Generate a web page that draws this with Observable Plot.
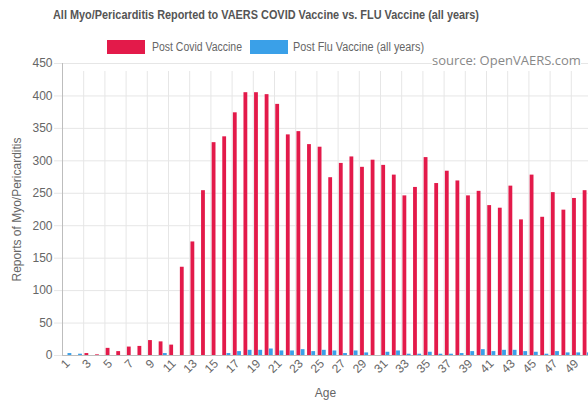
<!DOCTYPE html>
<html>
<head>
<meta charset="utf-8">
<script src="https://cdn.jsdelivr.net/npm/d3@7"></script>
<script src="https://cdn.jsdelivr.net/npm/@observablehq/plot@0.6"></script>
<style>
  html, body { margin: 0; padding: 0; background: #fff; overflow: hidden; }
  #wrap { position: relative; width: 588px; height: 400px; overflow: hidden; }
  #chart { position: absolute; left: 0; top: 0; }
  .txt { position: absolute; white-space: nowrap; transform-origin: 0 50%; line-height: 1; }
  .title { font-family: "Liberation Sans", Arial, sans-serif; font-weight: bold; font-size: 12.5px; color: #555; }
  .leg { font-family: "Liberation Sans", Arial, sans-serif; font-size: 12.5px; color: #666; }
  .sw { position: absolute; width: 38px; height: 14px; }
  .source { font-family: "Open Sans", sans-serif; font-size: 13px; color: #888; background: #fff; line-height: 1.2; }
</style>
</head>
<body>
<div id="wrap">
  <div id="chart"></div>
</div>
<script>
const titleText = "All Myo/Pericarditis Reported to VAERS COVID Vaccine vs. FLU Vaccine (all years)";
const sourceText = "source: OpenVAERS.com";
const seriesNames = ["Post Covid Vaccine", "Post Flu Vaccine (all years)"];
const seriesColors = ["#e31a4a", "#3aa0e8"];

const ages = [1,2,3,4,5,6,7,8,9,10,11,12,13,14,15,16,17,18,19,20,21,22,23,24,25,26,27,28,29,30,31,32,33,34,35,36,37,38,39,40,41,42,43,44,45,46,47,48,49,50];
const covid = [0,0,3,1,11,6,13,14,23,21,16,136,175,254,328,337,374,405,405,402,387,340,345,325,321,274,296,306,290,301,293,278,246,259,305,265,284,269,246,253,231,227,261,209,278,213,251,224,242,254];
const flu = [3,2,0,0,0,0,0,0,0,3,0,0,0,0,0,3,6,8,8,10,7,7,9,6,8,7,3,7,4,0,5,7,2,2,5,2,2,3,6,9,6,8,8,6,5,2,6,4,4,4];
const yTicks = [0,50,100,150,200,250,300,350,400,450];
const xTickAges = [1,3,5,7,9,11,13,15,17,19,21,23,25,27,29,31,33,35,37,39,41,43,45,47,49];

const data = ages.map((a, i) => ({age: a, covid: covid[i], flu: flu[i]}));

const xRange = [62, 592];
const bw = (xRange[1] - xRange[0]) / ages.length;
const grid = "#e6e6e6";
const axisCol = "#bdbdbd";

const plot = Plot.plot({
  width: 588,
  height: 400,
  marginTop: 63,
  marginBottom: 45,
  marginLeft: 62,
  marginRight: 0,
  style: {fontFamily: "'Liberation Sans', Arial, sans-serif", fontSize: "12px", overflow: "hidden", background: "transparent", color: "#666"},
  x: {type: "band", domain: ages, range: xRange, padding: 0, round: false},
  y: {domain: [0, 450], range: [355, 63]},
  marks: [
    Plot.ruleY(yTicks, {y: d => d, stroke: grid, insetLeft: -8}),
    Plot.ruleX(xTickAges, {x: d => d, y1: 0, y2: 450, dx: -bw / 2, stroke: grid, insetBottom: -8}),
    Plot.barY(data, {x: "age", y: "covid", fill: seriesColors[0], insetLeft: bw * 0.12, insetRight: bw * 0.52}),
    Plot.barY(data, {x: "age", y: "flu", fill: seriesColors[1], insetLeft: bw * 0.52, insetRight: bw * 0.12}),
    Plot.ruleY([0], {stroke: axisCol}),
    Plot.ruleX([ages[0]], {x: d => d, y1: 0, y2: 450, dx: -bw / 2, stroke: axisCol}),
    Plot.axisY({ticks: yTicks, tickSize: 0, tickPadding: 10, fill: "#666", label: "Reports of Myo/Pericarditis", labelAnchor: "center", labelArrow: "none", labelOffset: 50}),
    Plot.axisX({ticks: xTickAges, tickSize: 0, tickRotate: -45, tickPadding: 6, fill: "#666", label: "Age", labelAnchor: "center", labelArrow: "none", labelOffset: 41})
  ]
});
const wrap = document.getElementById("wrap");
document.getElementById("chart").appendChild(plot);

// place a text element so it spans [x0, x1] horizontally, centred vertically at cy
function placeText(text, cls, x0, x1, cy) {
  const el = document.createElement("div");
  el.className = "txt " + cls;
  el.textContent = text;
  wrap.appendChild(el);
  const r = el.getBoundingClientRect();
  el.style.left = x0 + "px";
  el.style.top = (cy - r.height / 2) + "px";
  el.style.transform = "scaleX(" + ((x1 - x0) / r.width) + ")";
  return el;
}
placeText(titleText, "title", 53, 479, 15);
const legendLayout = [[107, 152, 242], [250, 293, 424]];
seriesNames.forEach((n, i) => {
  const [bx, tx0, tx1] = legendLayout[i];
  const sw = document.createElement("div");
  sw.className = "sw";
  sw.style.left = bx + "px";
  sw.style.top = "40px";
  sw.style.background = seriesColors[i];
  wrap.appendChild(sw);
  placeText(n, "leg", tx0, tx1, 47);
});
const src = document.createElement("div");
src.className = "txt source";
src.textContent = sourceText;
src.style.left = "432px";
src.style.top = "53px";
wrap.appendChild(src);
</script>
</body>
</html>
